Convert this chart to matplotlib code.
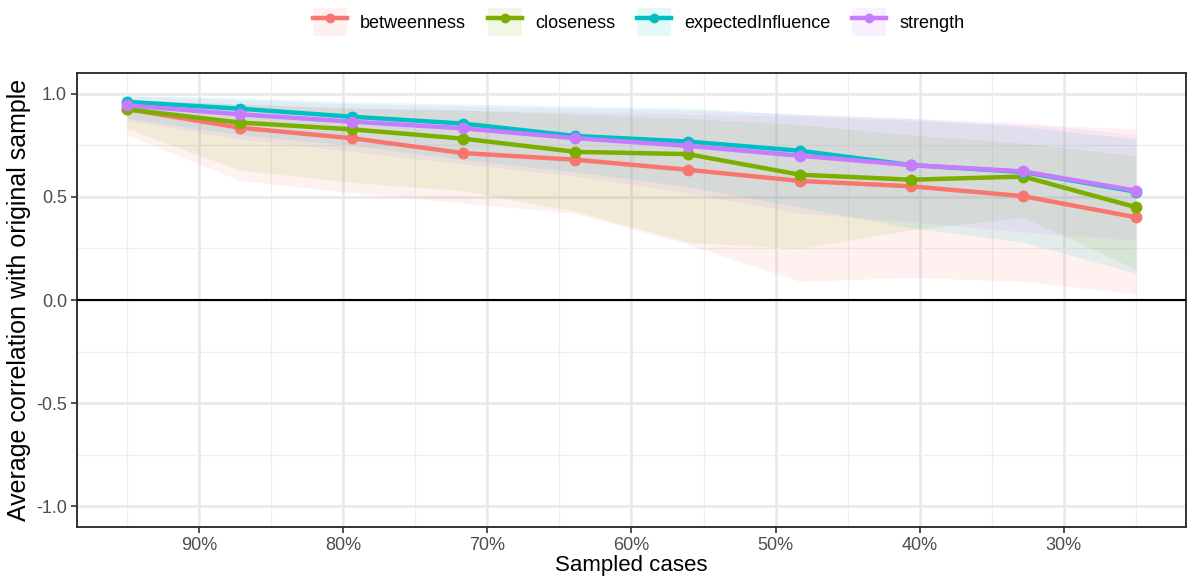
import matplotlib
matplotlib.use("Agg")
import matplotlib.pyplot as plt
from matplotlib.patches import Patch
from matplotlib.lines import Line2D
from matplotlib.ticker import FixedLocator, FixedFormatter

plt.rcParams['font.family'] = ['Liberation Sans', 'DejaVu Sans']
plt.rcParams['axes.unicode_minus'] = False

# ---- data ----
sampled = [95.0, 87.2, 79.4, 71.7, 63.9, 56.1, 48.3, 40.6, 32.8, 25.0]

betweenness = [0.925, 0.835, 0.784, 0.712, 0.680, 0.631, 0.577, 0.551, 0.503, 0.401]
betweenness_lo = [0.80, 0.58, 0.52, 0.47, 0.42, 0.27, 0.09, 0.11, 0.09, 0.03]
betweenness_hi = [0.97, 0.95, 0.93, 0.92, 0.91, 0.90, 0.89, 0.87, 0.85, 0.83]

closeness = [0.924, 0.860, 0.827, 0.782, 0.718, 0.707, 0.607, 0.583, 0.598, 0.450]
closeness_lo = [0.83, 0.63, 0.57, 0.53, 0.43, 0.28, 0.25, 0.34, 0.40, 0.15]
closeness_hi = [0.97, 0.95, 0.93, 0.92, 0.90, 0.88, 0.85, 0.80, 0.76, 0.70]

expected = [0.960, 0.927, 0.888, 0.855, 0.795, 0.768, 0.723, 0.654, 0.620, 0.525]
expected_lo = [0.88, 0.80, 0.75, 0.68, 0.62, 0.55, 0.45, 0.35, 0.28, 0.13]
expected_hi = [0.99, 0.98, 0.96, 0.95, 0.94, 0.93, 0.90, 0.88, 0.84, 0.78]

strength = [0.943, 0.900, 0.864, 0.832, 0.784, 0.747, 0.699, 0.654, 0.623, 0.530]
strength_lo = [0.87, 0.78, 0.72, 0.66, 0.60, 0.52, 0.42, 0.38, 0.33, 0.29]
strength_hi = [0.99, 0.97, 0.95, 0.94, 0.93, 0.92, 0.90, 0.88, 0.86, 0.80]

series_names = ["betweenness", "closeness", "expectedInfluence", "strength"]
colors = ["#F8766D", "#7CAE00", "#00BFC4", "#C77CFF"]

x_ticks = [90, 80, 70, 60, 50, 40, 30]
x_labels = ["90%", "80%", "70%", "60%", "50%", "40%", "30%"]
y_ticks = [-1.0, -0.5, 0.0, 0.5, 1.0]
y_labels = ["-1.0", "-0.5", "0.0", "0.5", "1.0"]

# ---- figure ----
fig = plt.figure(figsize=(12, 5.84), dpi=100)
ax = fig.add_axes([0.064, 0.0976, 0.9245, 0.7774])

means = [betweenness, closeness, expected, strength]
los = [betweenness_lo, closeness_lo, expected_lo, strength_lo]
his = [betweenness_hi, closeness_hi, expected_hi, strength_hi]

for m, lo, hi, c in zip(means, los, his, colors):
    ax.fill_between(sampled, lo, hi, color=c, alpha=0.1, linewidth=0, zorder=2)

ax.axhline(0, color="black", lw=1.5, zorder=3)

for m, c in zip(means, colors):
    ax.plot(sampled, m, color=c, lw=3.2, marker="o", markersize=7.5,
            solid_capstyle="butt", zorder=4)

ax.set_xlim(98.5, 21.5)
ax.set_ylim(-1.1, 1.1)

ax.xaxis.set_major_locator(FixedLocator(x_ticks))
ax.xaxis.set_major_formatter(FixedFormatter(x_labels))
ax.xaxis.set_minor_locator(FixedLocator([95, 85, 75, 65, 55, 45, 35, 25]))
ax.yaxis.set_major_locator(FixedLocator(y_ticks))
ax.yaxis.set_major_formatter(FixedFormatter(y_labels))
ax.yaxis.set_minor_locator(FixedLocator([-0.75, -0.25, 0.25, 0.75]))

ax.grid(which="major", color="#E8E8E8", lw=1.8, zorder=0)
ax.grid(which="minor", color="#EEEEEE", lw=0.9, zorder=0)
ax.set_axisbelow(True)

ax.tick_params(which="major", length=4, width=1.2, color="#333333",
               labelsize=13, labelcolor="#4D4D4D", pad=3)
ax.tick_params(which="minor", length=0)
for s in ax.spines.values():
    s.set_color("#333333")
    s.set_linewidth(1.4)

ax.set_xlabel("Sampled cases", fontsize=16, color="black", labelpad=1)
ax.set_ylabel("Average correlation with original sample", fontsize=18,
              color="black", labelpad=4)

# legend
handles = []
for c in colors:
    p = Patch(facecolor=c, alpha=0.1, edgecolor="none")
    l = Line2D([], [], color=c, lw=3.2, marker="o", markersize=6)
    handles.append((p, l))
leg = fig.legend(handles, series_names, loc="center", bbox_to_anchor=(0.532, 0.962),
                 ncol=4, frameon=False, fontsize=13, handlelength=1.9,
                 handleheight=2.0, columnspacing=1.2, handletextpad=0.72)

fig.savefig("out.png", dpi=100)
